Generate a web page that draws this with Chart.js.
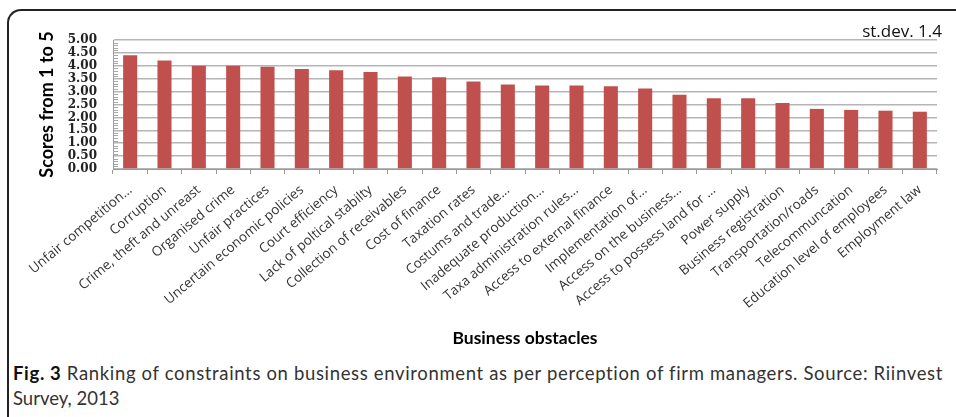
<!DOCTYPE html>
<html>
<head>
<meta charset="utf-8">
<script src="https://cdn.jsdelivr.net/npm/chart.js@4/dist/chart.umd.min.js"></script>
<style>
  body { margin: 0; width: 956px; height: 417px; overflow: hidden; background: #fff; position: relative; }
  #frame { position: absolute; left: 7px; top: 9px; width: 1000px; height: 500px;
           border-top: 2px solid #222; border-left: 2px solid #222; border-top-left-radius: 14px; }
  #wrap { position: absolute; left: 0; top: 0; width: 956px; height: 356px; }
  #stdev { position: absolute; right: 14px; top: 19px; font: 17px 'Open Sans', sans-serif; color: #111; }
  #caption { position: absolute; left: 13px; top: 361px; font: 18.5px Lato, sans-serif; line-height: 25px;
             color: #333; white-space: nowrap; }
  #caption b { color: #111; }
</style>
</head>
<body>
<div id="frame"></div>
<div id="wrap"><canvas id="obstacleChart" width="956" height="356"></canvas></div>
<div id="stdev">st.dev. 1.4</div>
<div id="caption"><span id="line1"><b>Fig. 3</b> Ranking of constraints on business environment as per perception of firm managers. Source: Riinvest</span><br>Survey, 2013</div>
<script>
// Business obstacles, ranked by mean score (1-5)
const obstacles = [
  'Unfair competition...', 'Corruption', 'Crime, theft and unreast', 'Organised crime',
  'Unfair practices', 'Uncertain economic policies', 'Court efficiency', 'Lack of poltical stabilty',
  'Collection of receivables', 'Cost of finance', 'Taxation rates', 'Costums and trade...',
  'Inadequate production...', 'Taxa administration rules...', 'Access to external finance',
  'Implementation of...', 'Access on the business...', 'Access to possess land for ...',
  'Power supply', 'Business registration', 'Transportation/roads', 'Telecommuncation',
  'Education level of employees', 'Employment law'
];
const scores = [4.41, 4.21, 4.00, 4.00, 3.96, 3.88, 3.83, 3.76, 3.59, 3.56, 3.39, 3.28,
                3.24, 3.24, 3.21, 3.12, 2.88, 2.74, 2.74, 2.56, 2.33, 2.29, 2.26, 2.22];
const yTicks = [0, 0.5, 1, 1.5, 2, 2.5, 3, 3.5, 4, 4.5, 5];

// stretch the first caption line to the width it has in the figure
const line1 = document.getElementById('line1');
const gap = 930 - line1.getBoundingClientRect().width;
line1.style.letterSpacing = (gap / line1.textContent.length) + 'px';

// small minor ticks every 0.1 on the inside of the y axis
const minorTicks = {
  id: 'minorTicks',
  afterDraw(chart) {
    const y = chart.scales.y;
    const ctx = chart.ctx;
    ctx.save();
    ctx.strokeStyle = '#a6a6a6';
    ctx.lineWidth = 1;
    for (let i = 0; i <= 50; i++) {
      if (i % 5 === 0) continue;
      const py = Math.round(y.getPixelForValue(i / 10)) + 0.5;
      ctx.beginPath();
      ctx.moveTo(y.right, py);
      ctx.lineTo(y.right + 5, py);
      ctx.stroke();
    }
    ctx.restore();
  }
};

const ctx = document.getElementById('obstacleChart').getContext('2d');
new Chart(ctx, {
  type: 'bar',
  data: {
    labels: obstacles,
    datasets: [{
      data: scores,
      backgroundColor: '#C0504D',
      barPercentage: 0.41,
      categoryPercentage: 1.0
    }]
  },
  options: {
    responsive: false,
    animation: false,
    layout: { padding: { left: 36, top: 40, right: 19, bottom: 0 } },
    plugins: { legend: { display: false }, tooltip: { enabled: false } },
    scales: {
      x: {
        grid: { display: true, drawOnChartArea: false, color: '#999', tickLength: 5, offset: true },
        border: { color: '#999' },
        ticks: {
          autoSkip: false, minRotation: 40, maxRotation: 40, padding: 8,
          color: '#333', font: { family: 'Open Sans', size: 13.5 }
        },
        title: {
          display: true, text: 'Business obstacles', color: '#000',
          font: { family: 'Lato', size: 17.5, weight: 'bold' }, padding: { top: 0, bottom: 7 }
        },
        afterFit(scale) { scale.height = 187; }
      },
      y: {
        min: 0, max: 5,
        afterBuildTicks(scale) { scale.ticks = yTicks.map(v => ({ value: v })); },
        grid: { color: '#b5b5b5', lineWidth: 1.5, drawTicks: false },
        border: { color: '#999' },
        ticks: {
          autoSkip: false, padding: 16, color: '#222',
          font: { family: 'DejaVu Serif', size: 12, weight: 'bold', lineHeight: 1 },
          callback: v => Number(v).toFixed(2)
        },
        title: {
          display: true, text: 'Scores from 1 to 5', color: '#000',
          font: { family: 'Lato', size: 18, weight: 'bold' }, padding: { top: 0, bottom: 6 }
        },
        afterFit(scale) { scale.width = 77; }
      }
    }
  },
  plugins: [minorTicks]
});
</script>
</body>
</html>
